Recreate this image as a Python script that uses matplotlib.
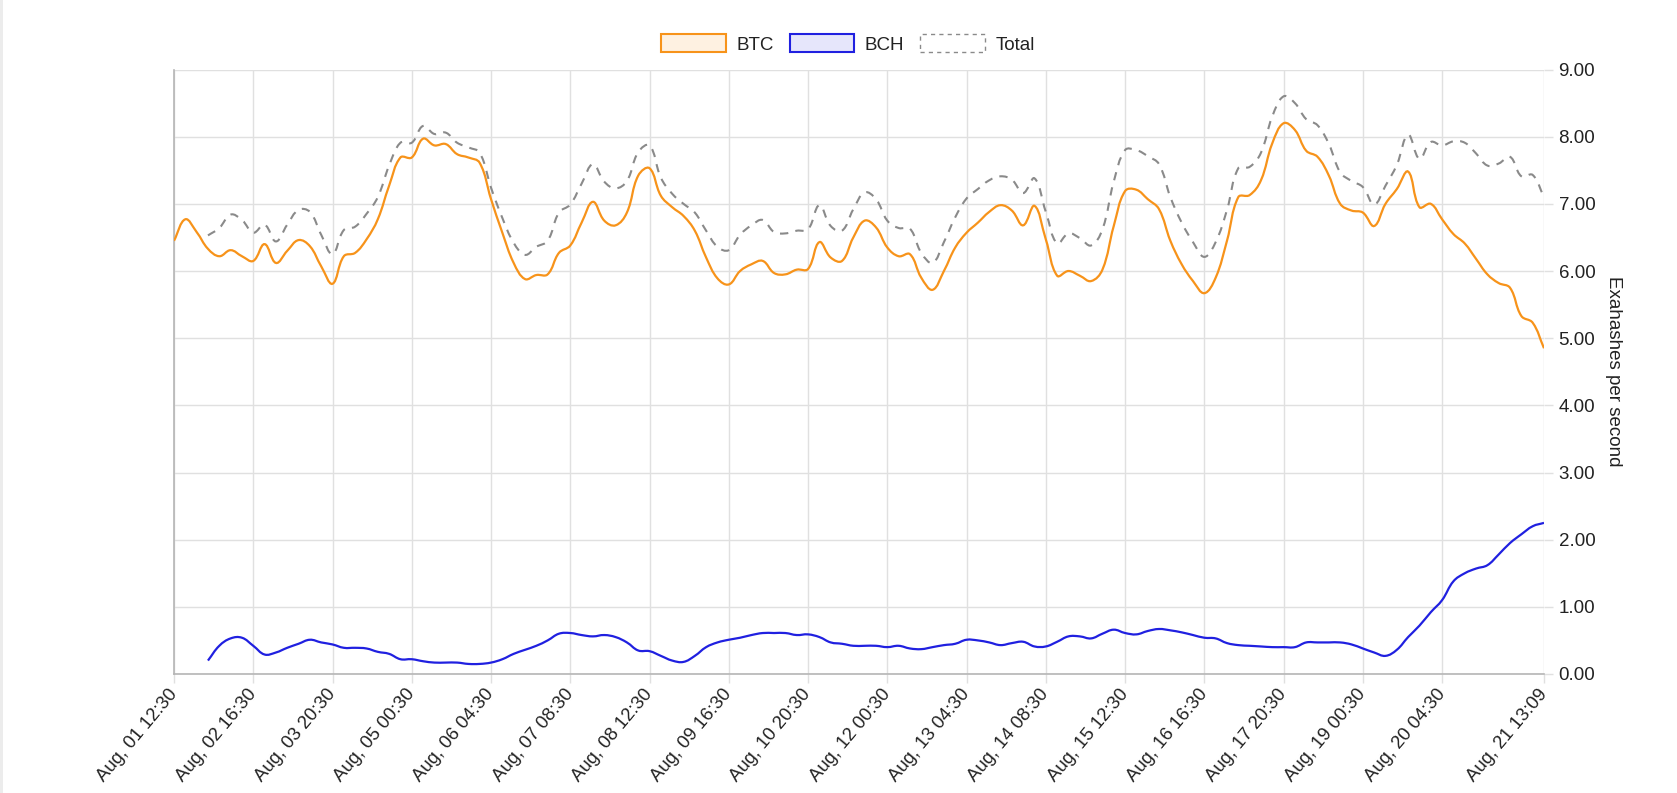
import numpy as np
import matplotlib

matplotlib.use('Agg')
import matplotlib.pyplot as plt
from matplotlib.path import Path
from matplotlib.patches import PathPatch, Patch, Rectangle

plt.rcParams['font.family'] = ['Liberation Sans', 'DejaVu Sans']

# 数据: 每4小时一个点, 最后一个点为 Aug 21 13:09
btc = [6.45, 6.77, 6.58, 6.33, 6.22, 6.31, 6.22, 6.15, 6.40, 6.12,
       6.30, 6.46, 6.37, 6.07, 5.81, 6.22, 6.27, 6.47, 6.77, 7.27,
       7.69, 7.69, 7.97, 7.87, 7.89, 7.74, 7.69, 7.61, 7.07, 6.57,
       6.12, 5.88, 5.94, 5.95, 6.27, 6.38, 6.72, 7.03, 6.75, 6.68,
       6.87, 7.42, 7.53, 7.12, 6.95, 6.82, 6.60, 6.20, 5.89, 5.80,
       6.00, 6.10, 6.15, 5.97, 5.95, 6.02, 6.03, 6.43, 6.20, 6.15,
       6.50, 6.75, 6.65, 6.35, 6.22, 6.25, 5.90, 5.72, 6.00, 6.35,
       6.57, 6.72, 6.88, 6.98, 6.90, 6.68, 6.97, 6.47, 5.93, 6.00,
       5.93, 5.85, 6.02, 6.67, 7.19, 7.21, 7.07, 6.92, 6.45, 6.10,
       5.85, 5.67, 5.90, 6.45, 7.10, 7.13, 7.35, 7.90, 8.20, 8.10,
       7.79, 7.70, 7.42, 7.00, 6.90, 6.87, 6.67, 7.00, 7.22, 7.48,
       6.95, 7.00, 6.77, 6.55, 6.41, 6.18, 5.95, 5.82, 5.75, 5.33,
       5.23, 4.85]

bch_start = 3  # BCH 从第4个点开始有数据
bch = [0.20, 0.42, 0.53, 0.54, 0.42, 0.29, 0.32, 0.39, 0.45, 0.51,
       0.47, 0.44, 0.39, 0.39, 0.38, 0.33, 0.30, 0.22, 0.22, 0.19,
       0.17, 0.17, 0.17, 0.15, 0.15, 0.17, 0.22, 0.30, 0.36, 0.42,
       0.50, 0.60, 0.61, 0.58, 0.56, 0.58, 0.55, 0.47, 0.35, 0.34,
       0.27, 0.20, 0.18, 0.27, 0.40, 0.47, 0.51, 0.54, 0.58, 0.61,
       0.61, 0.61, 0.58, 0.59, 0.55, 0.47, 0.45, 0.42, 0.42, 0.42,
       0.40, 0.42, 0.38, 0.37, 0.40, 0.43, 0.45, 0.51, 0.50, 0.47,
       0.43, 0.46, 0.48, 0.41, 0.41, 0.48, 0.56, 0.56, 0.53, 0.60,
       0.66, 0.61, 0.59, 0.64, 0.67, 0.65, 0.62, 0.58, 0.54, 0.53,
       0.46, 0.43, 0.42, 0.41, 0.40, 0.40, 0.40, 0.47, 0.47, 0.47,
       0.47, 0.44, 0.38, 0.32, 0.27, 0.36, 0.55, 0.72, 0.92, 1.10,
       1.38, 1.50, 1.57, 1.62, 1.78, 1.95, 2.08, 2.20, 2.25]

tick_labels = ['Aug, 01 12:30', 'Aug, 02 16:30', 'Aug, 03 20:30', 'Aug, 05 00:30',
               'Aug, 06 04:30', 'Aug, 07 08:30', 'Aug, 08 12:30', 'Aug, 09 16:30',
               'Aug, 10 20:30', 'Aug, 12 00:30', 'Aug, 13 04:30', 'Aug, 14 08:30',
               'Aug, 15 12:30', 'Aug, 16 16:30', 'Aug, 17 20:30', 'Aug, 19 00:30',
               'Aug, 20 04:30', 'Aug, 21 13:09']

btc = np.array(btc)
bch = np.array(bch)
x_btc = np.arange(len(btc))
x_bch = np.arange(bch_start, bch_start + len(bch))
total = btc[bch_start:] + bch

# 像素比例, 用于计算曲线控制点 (类似 chart.js 的 tension)
SX, SY = 11.33, 67.17


def smooth_path(xs, ys, t=0.4):
    pts = np.column_stack([np.asarray(xs, float) * SX, np.asarray(ys, float) * SY])
    n = len(pts)
    cp_in = np.zeros_like(pts)
    cp_out = np.zeros_like(pts)
    for i in range(n):
        cur = pts[i]
        prev = pts[i - 1] if i > 0 else cur
        nxt = pts[i + 1] if i < n - 1 else cur
        d01 = np.hypot(*(cur - prev))
        d12 = np.hypot(*(nxt - cur))
        s = d01 + d12
        s01 = d01 / s if s > 0 else 0
        s12 = d12 / s if s > 0 else 0
        cp_in[i] = cur - t * s01 * (nxt - prev)
        cp_out[i] = cur + t * s12 * (nxt - prev)
    verts = [pts[0]]
    codes = [Path.MOVETO]
    for i in range(1, n):
        verts += [cp_out[i - 1], cp_in[i], pts[i]]
        codes += [Path.CURVE4] * 3
    verts = np.array(verts)
    verts[:, 0] /= SX
    verts[:, 1] /= SY
    verts[:, 1] = np.clip(verts[:, 1], 0, 9)
    return Path(verts, codes)


fig = plt.figure(figsize=(16.77, 7.93), dpi=100)
ax = fig.add_axes([174 / 1677, 1 - 674 / 793, (1544 - 174) / 1677, (674 - 69.5) / 793])

orange = '#f7931a'
blue = '#2020e0'
grey = '#8a8a8a'

ax.add_patch(PathPatch(smooth_path(x_btc, btc), fill=False, edgecolor=orange, lw=1.6, zorder=3))
ax.add_patch(PathPatch(smooth_path(x_bch, bch), fill=False, edgecolor=blue, lw=1.6, zorder=3))
ax.add_patch(PathPatch(smooth_path(x_bch, total), fill=False, edgecolor=grey, lw=1.5,
                       linestyle=(0, (4, 3.5)), zorder=3))

ax.set_xlim(0, len(btc) - 1)
ax.set_ylim(0, 9)

tick_pos = list(range(0, 7 * (len(tick_labels) - 1), 7)) + [len(btc) - 1]
ax.set_xticks(tick_pos)
ax.set_xticklabels(tick_labels, rotation=50, ha='right', va='center', rotation_mode='anchor',
                   fontsize=13.3, color='#222222')
ax.set_yticks(range(10))
ax.set_yticklabels(['%.2f' % v for v in range(10)], fontsize=13.5, color='#222222')
ax.yaxis.tick_right()
ax.tick_params(axis='both', length=6.5, width=1, color='#e0e0e0')
ax.tick_params(axis='x', pad=6)
ax.tick_params(axis='y', pad=4)

ax.grid(True, color='#e0e0e0', lw=1)
ax.set_axisbelow(True)
for side in ['top', 'right']:
    ax.spines[side].set_visible(False)
for side in ['left', 'bottom']:
    ax.spines[side].set_color('#b5b5b5')
    ax.spines[side].set_linewidth(1.2)

ax.set_ylabel('Exahashes per second', rotation=270, fontsize=13.5, color='#222222',
              va='center', ha='center')
ax.yaxis.set_label_position('right')
ax.yaxis.set_label_coords((1622 - 174) / (1544 - 174), 0.5)

handles = [
    Patch(facecolor='#fef1e1', edgecolor=orange, lw=1.5, label='BTC'),
    Patch(facecolor='#e6e6fb', edgecolor=blue, lw=1.5, label='BCH'),
    Patch(facecolor='white', edgecolor=grey, lw=1.0, linestyle=(0, (3, 3)), label='Total'),
]
fig.legend(handles=handles, loc='center', bbox_to_anchor=(848 / 1677, 1 - 44 / 793), ncol=3,
           frameon=False, fontsize=13.5, handlelength=3.45, handleheight=1.05,
           handletextpad=0.55, columnspacing=0.85, labelcolor='#222222')

# 左侧浅灰边
fig.patches.append(Rectangle((0, 0), 3 / 1677, 1, transform=fig.transFigure,
                             facecolor='#ececec', edgecolor='none'))

plt.savefig('out.png', dpi=100)
